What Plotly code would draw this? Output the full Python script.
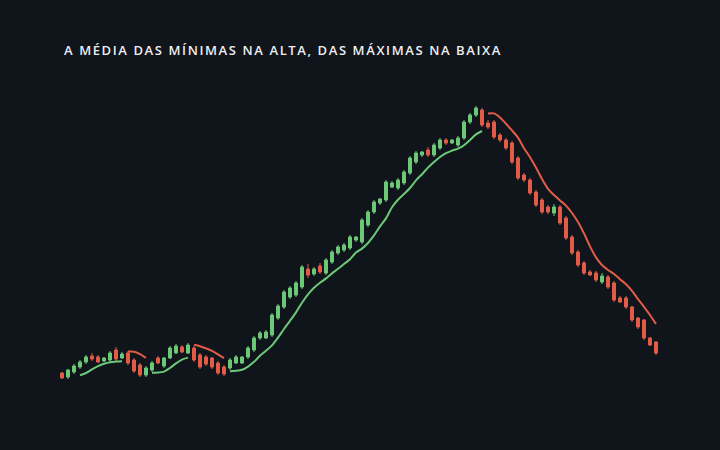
import plotly.graph_objects as go
import pandas as pd

# ---- data (price units) ----
opens = [77, 73, 78, 83, 88, 94, 93, 89, 90, 100, 92, 97, 90, 85, 75, 80, 92, 84, 92, 97,
         103, 97, 102, 95, 93, 92, 87, 83, 82, 87, 87, 93, 100, 112, 112, 115, 132, 143, 153, 155,
         163, 181, 176, 184, 177, 188, 197, 200, 202, 210, 208, 225, 238, 247, 250, 263, 262, 267, 277, 288,
         295, 300, 295, 302, 310, 307, 305, 312, 328, 335, 340, 327, 328, 315, 310, 307, 292, 275, 270, 258,
         250, 243, 237, 243, 232, 213, 198, 187, 178, 177, 168, 173, 167, 152, 152, 143, 132, 130, 112, 108]
highs = [78, 81, 86, 90, 95, 97, 95, 93, 99, 103, 98, 99, 92, 87, 84, 89, 94, 93, 104, 106,
         105, 107, 104, 97, 95, 93, 89, 85, 92, 95, 94, 104, 114, 119, 120, 137, 146, 160, 164, 169,
         185, 186, 183, 187, 192, 200, 205, 207, 215, 214, 232, 240, 250, 252, 270, 269, 272, 280, 294, 299,
         299, 303, 307, 312, 312, 311, 314, 330, 337, 344, 342, 330, 330, 317, 312, 309, 294, 277, 272, 260,
         252, 245, 246, 245, 234, 215, 200, 189, 180, 179, 177, 175, 169, 154, 154, 144, 133, 131, 113, 109]
lows = [71, 71, 76, 81, 86, 89, 87, 88, 89, 89, 91, 85, 77, 73, 73, 78, 86, 82, 91, 96,
        97, 96, 88, 81, 84, 81, 75, 74, 80, 86, 86, 91, 98, 110, 111, 113, 130, 141, 151, 153,
        161, 172, 174, 176, 175, 186, 195, 198, 200, 208, 206, 223, 236, 245, 248, 262, 260, 265, 275, 286,
        293, 293, 293, 300, 305, 306, 303, 310, 326, 333, 323, 321, 311, 308, 300, 286, 270, 268, 255, 243,
        236, 236, 234, 225, 210, 195, 183, 175, 174, 168, 166, 161, 148, 147, 141, 128, 121, 110, 104, 95]
closes = [72, 80, 84, 88, 93, 91, 88, 92, 97, 91, 96, 87, 79, 75, 82, 87, 87, 92, 102, 104,
          98, 105, 90, 83, 86, 83, 77, 76, 90, 93, 93, 102, 112, 117, 118, 135, 144, 158, 162, 167,
          183, 175, 181, 178, 190, 198, 203, 205, 213, 213, 230, 238, 248, 251, 268, 267, 270, 278, 292, 297,
          298, 295, 305, 310, 307, 310, 312, 328, 335, 342, 325, 323, 313, 310, 302, 288, 272, 270, 257, 245,
          238, 238, 243, 227, 212, 197, 185, 177, 175, 170, 174, 163, 150, 148, 143, 130, 123, 112, 105, 97]

# trend regimes: (kind, first candle, last candle)
regime_kind = ["alta", "baixa", "alta", "baixa", "alta", "baixa"]
regime_start = [3, 11, 15, 22, 28, 71]
regime_end = [10, 14, 21, 27, 70, 99]

ma_period = 5
title_text = "A MÉDIA DAS MÍNIMAS NA ALTA, DAS MÁXIMAS NA BAIXA"

# ---- style ----
BG = "#10141b"
GREEN = "#6cc978"
RED = "#e25d48"
W, H = 720, 450

idx = list(range(len(opens)))
df = pd.DataFrame({"o": opens, "h": highs, "l": lows, "c": closes}, index=idx)
ma_low = df["l"].rolling(ma_period, min_periods=1).mean()
ma_high = df["h"].rolling(ma_period, min_periods=1).mean()

fig = go.Figure()
fig.add_trace(go.Candlestick(
    x=idx, open=opens, high=highs, low=lows, close=closes,
    increasing=dict(line=dict(color=GREEN, width=1), fillcolor=GREEN),
    decreasing=dict(line=dict(color=RED, width=1), fillcolor=RED),
    whiskerwidth=0, hoverinfo="skip", showlegend=False,
))

for kind, a, b in zip(regime_kind, regime_start, regime_end):
    seg = list(range(a, b + 1))
    series = ma_low if kind == "alta" else ma_high
    fig.add_trace(go.Scatter(
        x=seg, y=[series[i] for i in seg], mode="lines",
        line=dict(color=GREEN if kind == "alta" else RED, width=2, shape="spline", smoothing=0.8),
        hoverinfo="skip", showlegend=False,
    ))

# layout: first candle ~62px from left, 6px per candle
x0_px, step_px = 62, 6
fig.update_layout(
    width=W, height=H,
    paper_bgcolor=BG, plot_bgcolor=BG,
    margin=dict(l=0, r=0, t=0, b=0),
    hovermode=False, dragmode=False,
    xaxis=dict(range=[-x0_px / step_px, (W - x0_px) / step_px], visible=False, fixedrange=True,
               rangeslider=dict(visible=False), showgrid=False, zeroline=False),
    yaxis=dict(range=[0, H], visible=False, fixedrange=True, showgrid=False, zeroline=False),
    annotations=[dict(
        text='<span style="letter-spacing:1.6px">' + title_text + "</span>",
        xref="paper", yref="paper", x=x0_px / W, y=1 - 50 / H,
        xanchor="left", yanchor="middle", showarrow=False,
        font=dict(family="Open Sans", size=13, color="#eeeeee", weight=600),
    )],
)

fig.write_html(
    "out.html",
    config={"displayModeBar": False, "staticPlot": True},
    post_script="document.body.style.margin='0';document.body.style.background='" + BG + "';",
)
